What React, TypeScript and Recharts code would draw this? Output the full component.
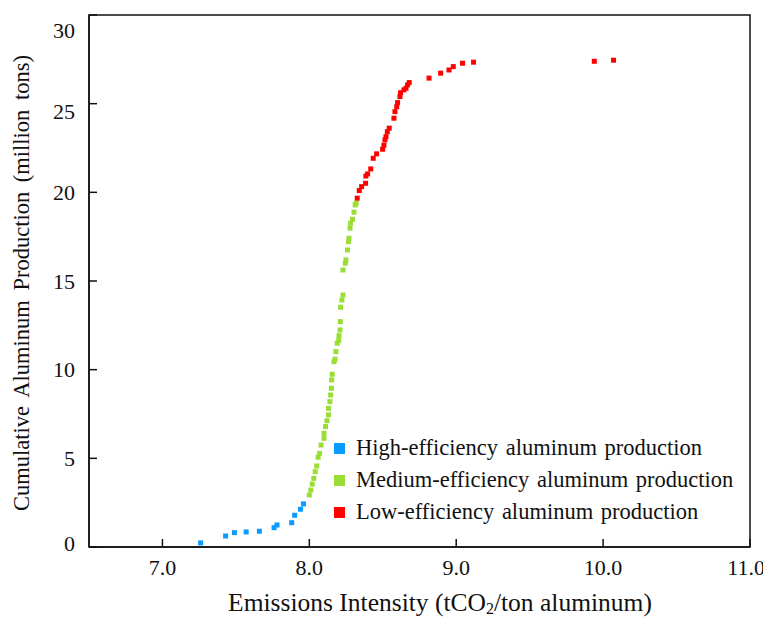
import {
  ScatterChart, Scatter, XAxis, YAxis, Legend, ReferenceArea,
} from 'recharts'

const FONT = 'Liberation Serif, Times New Roman, serif'

const X_TICKS = [7, 8, 9, 10, 11]
const Y_TICKS = [0, 5, 10, 15, 20, 25, 30]

const HIGH_X = [7.26, 7.43, 7.49, 7.57, 7.66, 7.76, 7.78, 7.88, 7.9, 7.94, 7.96]
const HIGH_Y = [0.23, 0.62, 0.81, 0.85, 0.89, 1.09, 1.24, 1.37, 1.79, 2.13, 2.43]

const MED_X = [
  8.0, 8.01, 8.02, 8.03, 8.04, 8.05, 8.06, 8.07, 8.08, 8.1, 8.1, 8.11, 8.12, 8.13,
  8.13, 8.14, 8.145, 8.15, 8.152, 8.156, 8.168, 8.175, 8.181, 8.19, 8.2, 8.202,
  8.209, 8.211, 8.213, 8.222, 8.229, 8.229, 8.245, 8.249, 8.26, 8.267, 8.27,
  8.277, 8.281, 8.294, 8.304, 8.312, 8.319,
]
const MED_Y = [
  2.93, 3.21, 3.55, 3.87, 4.25, 4.57, 5.06, 5.28, 5.75, 6.13, 6.41, 6.79, 7.12, 7.45,
  7.82, 8.2, 8.57, 8.95, 9.42, 9.74, 10.45, 10.59, 11.02, 11.49, 11.64, 11.92,
  12.24, 12.71, 13.52, 13.93, 14.21, 15.62, 16.0, 16.19, 16.75, 17.22, 17.41,
  17.98, 18.26, 18.48, 18.88, 19.29, 19.39,
]

const LOW_X = [
  8.326, 8.34, 8.356, 8.383, 8.385, 8.397, 8.418, 8.435, 8.458, 8.499, 8.508,
  8.515, 8.522, 8.531, 8.544, 8.576, 8.583, 8.595, 8.601, 8.617, 8.621, 8.644,
  8.658, 8.669, 8.68, 8.815, 8.894, 8.951, 8.98, 9.043, 9.118, 9.94, 10.071,
]
const LOW_Y = [
  19.67, 20.1, 20.32, 20.51, 20.92, 21.04, 21.32, 21.92, 22.17, 22.43, 22.66,
  22.96, 23.14, 23.42, 23.62, 24.18, 24.55, 24.83, 25.06, 25.4, 25.62, 25.78,
  25.87, 26.06, 26.19, 26.44, 26.72, 26.9, 27.09, 27.28, 27.34, 27.39, 27.45,
]

const SERIES = [
  { name: 'High-efficiency aluminum production', color: '#0a9bff', xs: HIGH_X, ys: HIGH_Y },
  { name: 'Medium-efficiency aluminum production', color: '#9ade35', xs: MED_X, ys: MED_Y },
  { name: 'Low-efficiency aluminum production', color: '#ff0000', xs: LOW_X, ys: LOW_Y },
]

const toPoints = (xs: number[], ys: number[]) => xs.map((x, i) => ({ x, y: ys[i] }))

// the original nudges the end labels inward a bit
const Y_LABEL_NUDGE: Record<number, number> = { 30: 13, 25: 8, 0: -4 }

function SquareDot(props: any) {
  const { cx, cy, fill } = props
  if (cx == null || cy == null) return null
  return <rect x={cx - 2.5} y={cy - 2.5} width={5} height={5} fill={fill} />
}

function YTick(props: any) {
  const { x, y, payload } = props
  const dy = Y_LABEL_NUDGE[payload.value] ?? 0
  return (
    <text
      x={x} y={y + dy} textAnchor="end" dominantBaseline="central"
      fontSize={22} fill="#111" style={{ fontFamily: FONT }}
    >
      {payload.value}
    </text>
  )
}

function XTick(props: any) {
  const { x, y, payload } = props
  const last = payload.value === 11
  return (
    <text
      x={last ? x + 15 : x} y={y} textAnchor={last ? 'end' : 'middle'} dominantBaseline="hanging"
      fontSize={22} fill="#111" style={{ fontFamily: FONT }}
    >
      {payload.value.toFixed(1)}
    </text>
  )
}

function LegendBox() {
  return (
    <div style={{ fontFamily: FONT, fontSize: 22.5, color: '#111' }}>
      {SERIES.map(s => (
        <div key={s.name} style={{ display: 'flex', alignItems: 'center', height: 32 }}>
          <span style={{ width: 11, height: 11, background: s.color, marginRight: 11, display: 'inline-block' }} />
          <span style={{ wordSpacing: 2 }}>{s.name}</span>
        </div>
      ))}
    </div>
  )
}

function XTitle() {
  return (
    <text x={432} y={603} textAnchor="middle" fontSize={25.5} fill="#111" style={{ fontFamily: FONT }}>
      Emissions Intensity (tCO<tspan fontSize={16} dy={3}>2</tspan>
      <tspan dy={-3}>/ton aluminum)</tspan>
    </text>
  )
}

function YTitle() {
  return (
    <text
      x={13} y={275} textAnchor="middle" dominantBaseline="central"
      transform="rotate(-90 13 275)" fontSize={22.5} fill="#111"
      style={{ fontFamily: FONT, wordSpacing: 4 }}
    >
      Cumulative Aluminum Production (million tons)
    </text>
  )
}

export default function App() {
  return (
    <>
      <style>{'html, body { overflow: hidden; }'}</style>
      <ScatterChart
        width={763} height={612} margin={{ top: 7, right: 21, bottom: 0, left: 0 }}
        style={{ fontFamily: FONT }}
      >
        <XAxis
          type="number" dataKey="x" domain={[6.5, 11]} ticks={X_TICKS} height={73}
          tickSize={-8} tickMargin={20}
          axisLine={{ stroke: '#111', strokeWidth: 1.5 }}
          tickLine={{ stroke: '#111', strokeWidth: 1.5 }}
          tick={XTick}
          label={() => <XTitle />}
        />
        <YAxis
          type="number" dataKey="y" domain={[0, 30]} ticks={Y_TICKS} width={81}
          tickSize={-8} tickMargin={22}
          axisLine={{ stroke: '#111', strokeWidth: 1.5 }}
          tickLine={{ stroke: '#111', strokeWidth: 1.5 }}
          tick={YTick}
          label={() => <YTitle />}
        />
        <ReferenceArea x1={6.5} x2={11} y1={0} y2={30} fill="none" stroke="#111" strokeWidth={1.5} ifOverflow="visible" />
        {SERIES.map(s => (
          <Scatter
            key={s.name} name={s.name} data={toPoints(s.xs, s.ys)} fill={s.color}
            shape={SquareDot} isAnimationActive={false}
          />
        ))}
        <Legend
          layout="vertical" verticalAlign="middle" align="center"
          content={() => <LegendBox />}
          wrapperStyle={{ left: 326, top: 424, width: 430 }}
        />
      </ScatterChart>
    </>
  )
}
